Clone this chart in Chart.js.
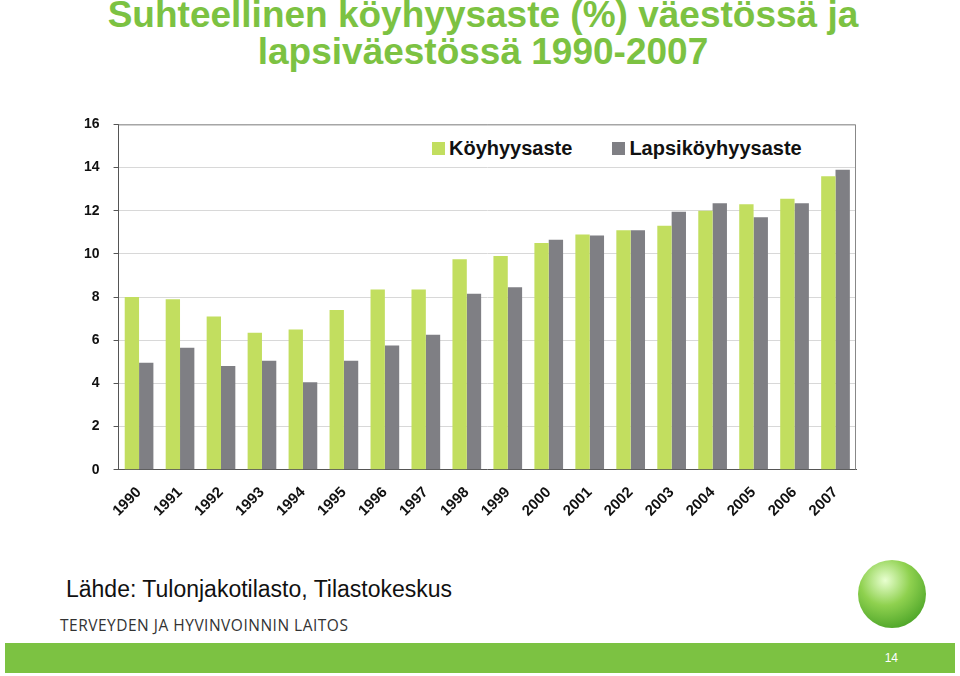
<!DOCTYPE html>
<html>
<head>
<meta charset="utf-8">
<script src="https://cdn.jsdelivr.net/npm/chart.js@4"></script>
<style>
body { margin: 0; width: 960px; height: 676px; position: relative; background: #fff; font-family: "Liberation Sans", Arial, sans-serif; overflow: hidden; }
#title { position: absolute; left: 0; top: -4px; width: 966px; text-align: center; color: #7cc242; font-weight: bold; font-size: 37px; line-height: 37px; }
#wrap { position: absolute; left: 70px; top: 102px; width: 800px; height: 424px; }
#legend { position: absolute; left: 392px; top: 137px; width: 462px; height: 30px; background: #fff; font-weight: bold; font-size: 20px; color: #111; }
#legend span.b { display: inline-block; width: 13px; height: 13px; margin-right: 4px; vertical-align: 0px; }
#src { position: absolute; left: 66px; top: 576px; font-size: 23px; color: #111; }
#thl { position: absolute; left: 60px; top: 614px; font-size: 15.5px; color: #333; letter-spacing: 0.5px; font-family: "Open Sans", sans-serif; }
#bar { position: absolute; left: 5px; top: 643px; width: 950px; height: 30px; background: #7cc242; }
#num { position: absolute; right: 62px; top: 651px; font-size: 12px; color: #fff; }
#logo { position: absolute; left: 858px; top: 560px; width: 68px; height: 68px; border-radius: 50%; background: radial-gradient(circle at 40% 30%, #e8ffd0 0%, #8fd14f 40%, #3d9a1f 90%); }
</style>
</head>
<body>
<div id="title">Suhteellinen köyhyysaste (%) väestössä ja<br>lapsiväestössä 1990-2007</div>
<div id="wrap"><canvas id="c"></canvas></div>
<div id="legend"><span style="margin-left:40px"><span class="b" style="background:#c2de5f"></span>Köyhyysaste</span><span style="margin-left:40px"><span class="b" style="background:#7f7f84"></span>Lapsiköyhyysaste</span></div>
<div id="src">Lähde: Tulonjakotilasto, Tilastokeskus</div>
<div id="thl">TERVEYDEN JA HYVINVOINNIN LAITOS</div>
<div id="logo"></div>
<div id="bar"></div>
<div id="num">14</div>
<script>
var years = ['1990','1991','1992','1993','1994','1995','1996','1997','1998','1999','2000','2001','2002','2003','2004','2005','2006','2007'];
var koyhyysaste = [8.0, 7.9, 7.1, 6.35, 6.5, 7.4, 8.35, 8.35, 9.75, 9.9, 10.5, 10.9, 11.1, 11.3, 12.0, 12.3, 12.55, 13.6];
var lapsikoyhyysaste = [4.95, 5.65, 4.8, 5.05, 4.05, 5.05, 5.75, 6.25, 8.15, 8.45, 10.65, 10.85, 11.1, 11.95, 12.35, 11.7, 12.35, 13.9];

// right-hand frame line of the plot area
var frame = {
    id: 'frame',
    afterDraw: function(chart) {
        var a = chart.chartArea, ctx = chart.ctx;
        ctx.save();
        ctx.strokeStyle = '#888';
        ctx.lineWidth = 1;
        ctx.beginPath();
        ctx.moveTo(a.left, a.top + 0.5);
        ctx.lineTo(a.right - 0.5, a.top + 0.5);
        ctx.lineTo(a.right - 0.5, a.bottom);
        ctx.stroke();
        ctx.restore();
    }
};

var config = {
    type: 'bar',
    data: {
        labels: years,
        datasets: [{
            label: 'Köyhyysaste',
            data: koyhyysaste,
            backgroundColor: '#c2de5f',
            categoryPercentage: 0.7,
            barPercentage: 1.0
        },
        {
            label: 'Lapsiköyhyysaste',
            data: lapsikoyhyysaste,
            backgroundColor: '#7f7f84',
            categoryPercentage: 0.7,
            barPercentage: 1.0
        }]
    },
    options: {
        responsive: true,
        maintainAspectRatio: false,
        animation: false,
        layout: { padding: { top: 10, right: 14 } },
        plugins: { legend: { display: false }, tooltip: { enabled: false } },
        scales: {
            x: {
                grid: { display: false },
                border: { color: '#555' },
                ticks: { color: '#111', maxRotation: 45, minRotation: 45, padding: 6, font: { family: 'Liberation Sans', size: 15, weight: 'bold' } }
            },
            y: {
                min: 0, max: 16,
                ticks: { stepSize: 2, color: '#111', padding: 14, font: { family: 'Liberation Sans', size: 14, weight: 'bold' } },
                grid: { color: '#d8d8d8', tickLength: 5, tickColor: '#555' },
                border: { color: '#555' }
            }
        }
    },
    plugins: [frame]
};

new Chart(document.getElementById('c').getContext('2d'), config);
</script>
</body>
</html>
